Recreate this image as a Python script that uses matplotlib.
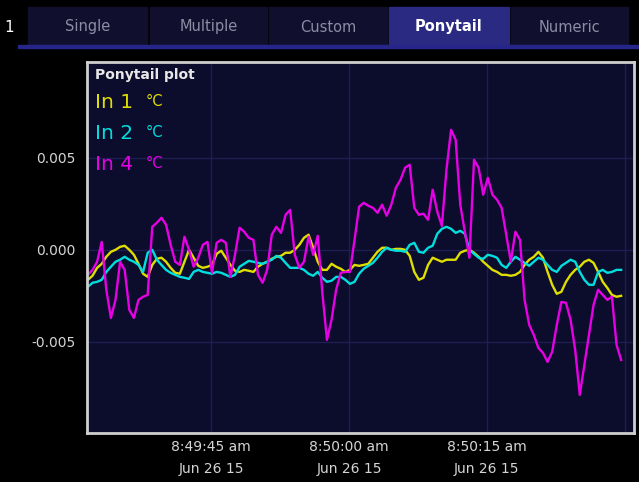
"""
Ponytail plot - recriação do painel de temperatura (In 1 / In 2 / In 4)
"""
import matplotlib
matplotlib.use("Agg")
import matplotlib.pyplot as plt
import matplotlib.dates as mdates
from matplotlib.patches import Rectangle
import pandas as pd

# Amostras a cada 0,5 s (valores em unidades de 1e-3 °C)
start_time = "2015-06-26 08:49:31.6"
n_samples = 117

in1 = [-1.63, -1.41, -0.98, -0.76, -0.38, -0.11, 0.00, 0.16, 0.22, 0.00,
       -0.27, -0.76, -1.30, -1.47, -0.82, -0.49, -0.43, -0.65, -0.98, -1.25,
       -1.30, -0.65, 0.00, -0.43, -0.87, -0.98, -0.92, -0.82, -0.22, -0.05,
       -0.43, -0.82, -1.14, -1.20, -1.09, -1.14, -1.20, -0.92, -0.76, -0.65,
       -0.49, -0.38, -0.33, -0.16, -0.16, 0.00, 0.27, 0.65, 0.82, 0.11,
       -0.65, -1.09, -1.09, -0.76, -0.92, -1.03, -1.20, -1.09, -0.82, -0.87,
       -0.82, -0.76, -0.43, -0.11, 0.11, 0.11, 0.00, 0.05, 0.05, 0.00,
       -0.33, -1.20, -1.63, -1.52, -0.82, -0.43, -0.54, -0.65, -0.54, -0.54,
       -0.54, -0.16, -0.05, 0.00, -0.16, -0.38, -0.65, -0.87, -1.09, -1.20,
       -1.36, -1.36, -1.41, -1.36, -1.20, -0.82, -0.54, -0.38, -0.11, -0.43,
       -1.20, -1.90, -2.39, -2.28, -1.74, -1.36, -1.09, -0.92, -0.65, -0.54,
       -0.71, -1.20, -1.74, -2.07, -2.45, -2.55, -2.50]

in2 = [-2.01, -1.79, -1.74, -1.63, -1.20, -0.92, -0.65, -0.54, -0.38, -0.54,
       -0.65, -0.82, -1.20, -0.16, 0.00, -0.54, -0.82, -1.09, -1.25, -1.36,
       -1.47, -1.52, -1.58, -1.20, -1.09, -1.20, -1.25, -1.30, -1.20, -1.25,
       -1.36, -1.47, -1.36, -0.92, -0.76, -0.60, -0.65, -0.71, -0.76, -0.65,
       -0.54, -0.33, -0.43, -0.71, -0.98, -0.98, -0.98, -1.09, -1.30, -1.41,
       -1.20, -1.52, -1.74, -1.68, -1.47, -1.47, -1.63, -1.85, -1.74, -1.30,
       -1.03, -0.87, -0.71, -0.43, -0.11, 0.11, 0.00, -0.05, -0.05, -0.11,
       0.27, 0.38, -0.11, -0.16, 0.11, 0.22, 0.87, 1.14, 1.25, 1.14,
       0.92, 1.03, 0.87, 0.00, -0.22, -0.43, -0.49, -0.27, -0.33, -0.43,
       -0.82, -0.98, -0.65, -0.38, -0.54, -0.71, -0.87, -0.65, -0.43, -0.54,
       -0.82, -1.09, -1.20, -0.87, -0.71, -0.54, -0.65, -1.20, -1.63, -1.90,
       -1.90, -1.20, -1.09, -1.25, -1.20, -1.09, -1.09]

in4 = [-1.36, -1.09, -0.65, 0.43, -2.17, -3.70, -2.72, -0.65, -1.09, -3.26,
       -3.70, -2.72, -2.55, -2.45, 1.25, 1.47, 1.74, 1.36, 0.27, -0.65,
       -0.82, 0.71, 0.00, -0.92, -0.43, 0.27, 0.43, -1.25, 0.38, 0.54,
       0.38, -1.47, -0.27, 1.20, 0.98, 0.65, 0.54, -1.36, -1.79, -1.09,
       0.82, 1.25, 0.92, 1.90, 2.17, -0.27, -0.98, -0.65, 0.71, -0.27,
       0.76, -2.34, -4.89, -3.80, -2.17, -1.25, -1.20, -1.20, 0.54, 2.34,
       2.55, 2.39, 2.28, 2.01, 2.45, 1.85, 2.45, 3.37, 3.80, 4.46,
       4.62, 2.28, 1.90, 1.96, 1.63, 3.26, 2.07, 1.30, 4.35, 6.52,
       5.98, 2.45, 0.98, -0.43, 4.89, 4.46, 2.99, 3.91, 2.99, 2.72,
       2.28, 0.82, -0.65, 0.98, 0.54, -2.72, -4.08, -4.62, -5.33, -5.60,
       -6.09, -5.54, -4.08, -2.83, -2.88, -3.80, -5.43, -7.88, -6.25, -4.62,
       -2.99, -2.17, -2.45, -2.72, -2.55, -5.16, -5.98]

series_names = ["In 1", "In 2", "In 4"]
series_colors = ["#dede00", "#00dede", "#e600e6"]

tab_names = ["Single", "Multiple", "Custom", "Ponytail", "Numeric"]
tick_times = ["08:49:45", "08:50:00", "08:50:15", "08:50:30"]
tick_labels = ["8:49:45 am\nJun 26 15", "8:50:00 am\nJun 26 15",
               "8:50:15 am\nJun 26 15", ""]
ytick_vals = [-0.005, 0.0, 0.005]
ytick_labels = ["-0.005", "0.000", "0.005"]

W, H = 639, 482
fig = plt.figure(figsize=(W / 100, H / 100), dpi=100, facecolor="black")

# eixo principal (em pixels: x 87..634, y 62..433)
ax = fig.add_axes([87 / W, 1 - 433 / H, (634 - 87) / W, (433 - 62) / H])
ax.set_facecolor("#0c0c2c")

t = pd.date_range(start_time, periods=n_samples, freq="500ms")
for vals, name, col in zip([in1, in2, in4], series_names, series_colors):
    ax.plot(t, [v / 1000 for v in vals], color=col, lw=1.7, label=name)

ax.set_xlim(pd.Timestamp("2015-06-26 08:49:31.5"), pd.Timestamp("2015-06-26 08:50:31.0"))
ax.set_ylim(-0.00995, 0.0102)

ax.set_xticks([pd.Timestamp("2015-06-26 " + s) for s in tick_times])
ax.set_xticklabels(tick_labels)
ax.set_yticks(ytick_vals)
ax.set_yticklabels(ytick_labels)
ax.tick_params(length=0, colors="#d4d4d4", labelsize=10)
ax.tick_params(axis="x", pad=5)
ax.tick_params(axis="y", pad=8)
for lbl in ax.get_xticklabels():
    lbl.set_linespacing(1.75)
ax.grid(True, color="#1e1e52", lw=1)
for s in ax.spines.values():
    s.set_color("#cfcfcf")
    s.set_linewidth(2)

# sobreposição em coordenadas de pixel: abas e legenda
ov = fig.add_axes([0, 0, 1, 1], zorder=5)
ov.set_xlim(0, W)
ov.set_ylim(H, 0)
ov.axis("off")
ov.patch.set_visible(False)

ov.text(9, 27, "1", color="white", fontsize=11, ha="center", va="center")
tab_edges = [(28, 147), (150, 267), (269, 387), (389, 509), (511, 628)]
for name, (x0, x1) in zip(tab_names, tab_edges):
    active = name == "Ponytail"
    ov.add_patch(Rectangle((x0, 7), x1 - x0, 38,
                           color="#2a2a82" if active else "#10102e"))
    ov.text((x0 + x1) / 2, 27, name, ha="center", va="center", fontsize=10.5,
            color="white" if active else "#8c8ca4",
            fontweight="bold" if active else "normal")
ov.add_patch(Rectangle((18, 45), W - 18, 3, color="#26268a"))

ov.text(95, 75, "Ponytail plot", color="#e8e8e8", fontsize=10,
        fontweight="bold", va="center")
for i, (name, col) in enumerate(zip(series_names, series_colors)):
    y = 103 + i * 30.5
    ov.text(95, y, name, color=col, fontsize=14.5, va="center")
    ov.text(146, y - 1, "°C", color=col, fontsize=10.5, va="center")

fig.savefig("out.png", dpi=100, facecolor="black")
